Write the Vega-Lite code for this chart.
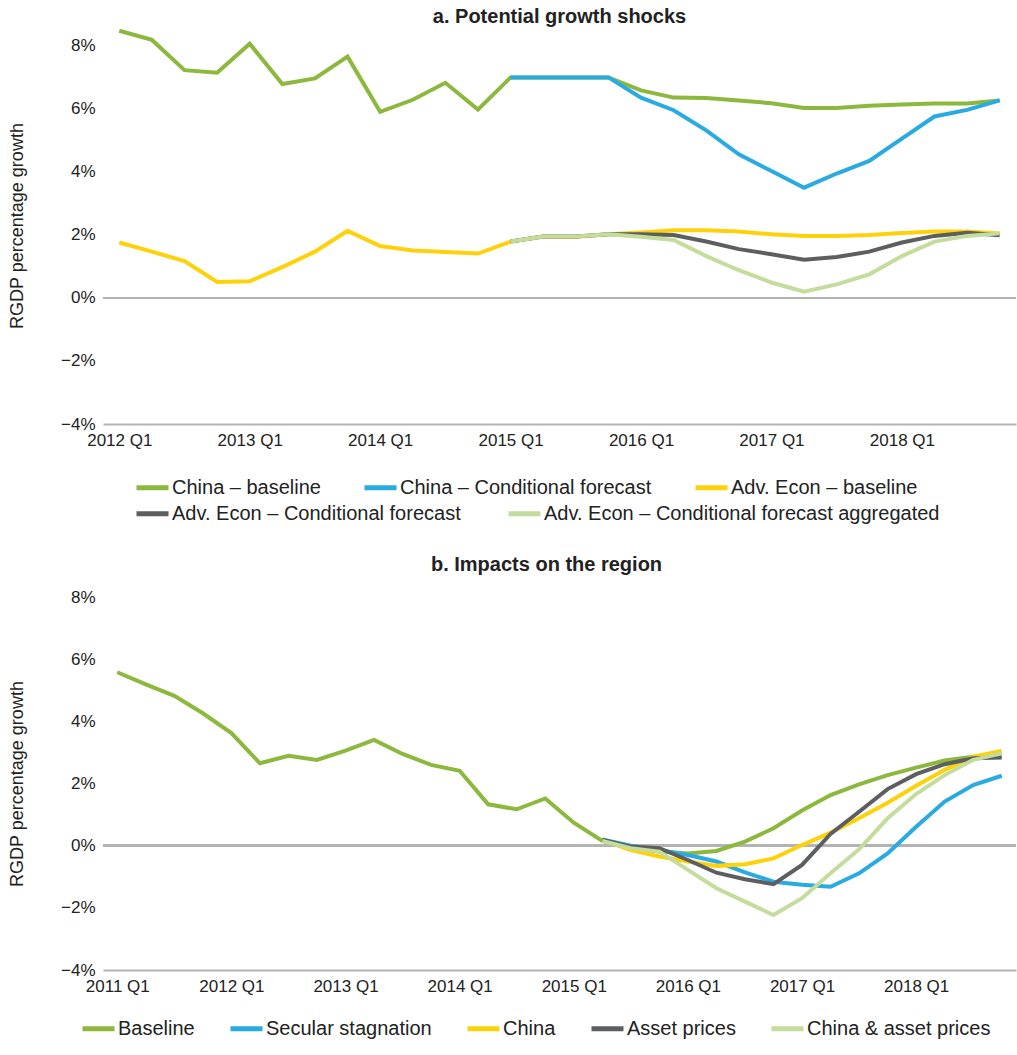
{
  "$schema": "https://vega.github.io/schema/vega-lite/v6.json",
  "padding": {"left": 8, "top": 6, "right": 0, "bottom": 0},
  "background": "white",
  "spacing": 31,
  "resolve": {"scale": {"color": "independent", "stroke": "independent"}, "legend": {"color": "independent", "stroke": "independent"}},
  "config": {
    "font": "Liberation Sans",
    "view": {"stroke": null},
    "title": {"font": "Liberation Sans", "fontSize": 20, "fontWeight": "bold", "color": "#222222", "anchor": "middle", "frame": "group"},
    "axis": {"labelFont": "Liberation Sans", "labelFontSize": 17, "labelColor": "#222222", "ticks": false, "grid": false, "titleFont": "Liberation Sans", "titleFontSize": 18, "titleFontWeight": "normal", "titleColor": "#222222"},
    "axisX": {"domainColor": "#b3b3b3", "domainWidth": 2, "labelPadding": 8, "labelAngle": 0},
    "axisY": {"domain": false, "labelPadding": 8, "titlePadding": 34},
    "legend": {"orient": "none", "direction": "horizontal", "title": null, "labelFont": "Liberation Sans", "labelFontSize": 20, "labelColor": "#222222", "symbolType": "stroke", "symbolSize": 1024, "symbolStrokeWidth": 5, "labelOffset": 1, "labelLimit": 700, "padding": 0}
  },
  "datasets": {
    "a": [
      {"q": "2012 Q1", "s": "China – baseline", "v": 8.48},
      {"q": "2012 Q2", "s": "China – baseline", "v": 8.19},
      {"q": "2012 Q3", "s": "China – baseline", "v": 7.23},
      {"q": "2012 Q4", "s": "China – baseline", "v": 7.15},
      {"q": "2013 Q1", "s": "China – baseline", "v": 8.07},
      {"q": "2013 Q2", "s": "China – baseline", "v": 6.79},
      {"q": "2013 Q3", "s": "China – baseline", "v": 6.97},
      {"q": "2013 Q4", "s": "China – baseline", "v": 7.66},
      {"q": "2014 Q1", "s": "China – baseline", "v": 5.91},
      {"q": "2014 Q2", "s": "China – baseline", "v": 6.29},
      {"q": "2014 Q3", "s": "China – baseline", "v": 6.83},
      {"q": "2014 Q4", "s": "China – baseline", "v": 5.98},
      {"q": "2015 Q1", "s": "China – baseline", "v": 7.0},
      {"q": "2015 Q2", "s": "China – baseline", "v": 7.0},
      {"q": "2015 Q3", "s": "China – baseline", "v": 7.0},
      {"q": "2015 Q4", "s": "China – baseline", "v": 7.0},
      {"q": "2016 Q1", "s": "China – baseline", "v": 6.59},
      {"q": "2016 Q2", "s": "China – baseline", "v": 6.36},
      {"q": "2016 Q3", "s": "China – baseline", "v": 6.35},
      {"q": "2016 Q4", "s": "China – baseline", "v": 6.27},
      {"q": "2017 Q1", "s": "China – baseline", "v": 6.18},
      {"q": "2017 Q2", "s": "China – baseline", "v": 6.03},
      {"q": "2017 Q3", "s": "China – baseline", "v": 6.03},
      {"q": "2017 Q4", "s": "China – baseline", "v": 6.10},
      {"q": "2018 Q1", "s": "China – baseline", "v": 6.14},
      {"q": "2018 Q2", "s": "China – baseline", "v": 6.17},
      {"q": "2018 Q3", "s": "China – baseline", "v": 6.17},
      {"q": "2018 Q4", "s": "China – baseline", "v": 6.27},

      {"q": "2015 Q1", "s": "China – Conditional forecast", "v": 7.0},
      {"q": "2015 Q2", "s": "China – Conditional forecast", "v": 7.0},
      {"q": "2015 Q3", "s": "China – Conditional forecast", "v": 7.0},
      {"q": "2015 Q4", "s": "China – Conditional forecast", "v": 7.0},
      {"q": "2016 Q1", "s": "China – Conditional forecast", "v": 6.36},
      {"q": "2016 Q2", "s": "China – Conditional forecast", "v": 5.96},
      {"q": "2016 Q3", "s": "China – Conditional forecast", "v": 5.32},
      {"q": "2016 Q4", "s": "China – Conditional forecast", "v": 4.56},
      {"q": "2017 Q1", "s": "China – Conditional forecast", "v": 4.03},
      {"q": "2017 Q2", "s": "China – Conditional forecast", "v": 3.50},
      {"q": "2017 Q3", "s": "China – Conditional forecast", "v": 3.95},
      {"q": "2017 Q4", "s": "China – Conditional forecast", "v": 4.35},
      {"q": "2018 Q1", "s": "China – Conditional forecast", "v": 5.06},
      {"q": "2018 Q2", "s": "China – Conditional forecast", "v": 5.76},
      {"q": "2018 Q3", "s": "China – Conditional forecast", "v": 5.97},
      {"q": "2018 Q4", "s": "China – Conditional forecast", "v": 6.27},

      {"q": "2012 Q1", "s": "Adv. Econ – baseline", "v": 1.76},
      {"q": "2012 Q2", "s": "Adv. Econ – baseline", "v": 1.47},
      {"q": "2012 Q3", "s": "Adv. Econ – baseline", "v": 1.17},
      {"q": "2012 Q4", "s": "Adv. Econ – baseline", "v": 0.51},
      {"q": "2013 Q1", "s": "Adv. Econ – baseline", "v": 0.53},
      {"q": "2013 Q2", "s": "Adv. Econ – baseline", "v": 0.98},
      {"q": "2013 Q3", "s": "Adv. Econ – baseline", "v": 1.47},
      {"q": "2013 Q4", "s": "Adv. Econ – baseline", "v": 2.13},
      {"q": "2014 Q1", "s": "Adv. Econ – baseline", "v": 1.65},
      {"q": "2014 Q2", "s": "Adv. Econ – baseline", "v": 1.51},
      {"q": "2014 Q3", "s": "Adv. Econ – baseline", "v": 1.46},
      {"q": "2014 Q4", "s": "Adv. Econ – baseline", "v": 1.41},
      {"q": "2015 Q1", "s": "Adv. Econ – baseline", "v": 1.79},
      {"q": "2015 Q2", "s": "Adv. Econ – baseline", "v": 1.95},
      {"q": "2015 Q3", "s": "Adv. Econ – baseline", "v": 1.94},
      {"q": "2015 Q4", "s": "Adv. Econ – baseline", "v": 2.02},
      {"q": "2016 Q1", "s": "Adv. Econ – baseline", "v": 2.08},
      {"q": "2016 Q2", "s": "Adv. Econ – baseline", "v": 2.15},
      {"q": "2016 Q3", "s": "Adv. Econ – baseline", "v": 2.15},
      {"q": "2016 Q4", "s": "Adv. Econ – baseline", "v": 2.11},
      {"q": "2017 Q1", "s": "Adv. Econ – baseline", "v": 2.02},
      {"q": "2017 Q2", "s": "Adv. Econ – baseline", "v": 1.97},
      {"q": "2017 Q3", "s": "Adv. Econ – baseline", "v": 1.97},
      {"q": "2017 Q4", "s": "Adv. Econ – baseline", "v": 2.00},
      {"q": "2018 Q1", "s": "Adv. Econ – baseline", "v": 2.06},
      {"q": "2018 Q2", "s": "Adv. Econ – baseline", "v": 2.11},
      {"q": "2018 Q3", "s": "Adv. Econ – baseline", "v": 2.11},
      {"q": "2018 Q4", "s": "Adv. Econ – baseline", "v": 2.05},

      {"q": "2015 Q1", "s": "Adv. Econ – Conditional forecast", "v": 1.79},
      {"q": "2015 Q2", "s": "Adv. Econ – Conditional forecast", "v": 1.95},
      {"q": "2015 Q3", "s": "Adv. Econ – Conditional forecast", "v": 1.95},
      {"q": "2015 Q4", "s": "Adv. Econ – Conditional forecast", "v": 2.02},
      {"q": "2016 Q1", "s": "Adv. Econ – Conditional forecast", "v": 2.02},
      {"q": "2016 Q2", "s": "Adv. Econ – Conditional forecast", "v": 2.00},
      {"q": "2016 Q3", "s": "Adv. Econ – Conditional forecast", "v": 1.79},
      {"q": "2016 Q4", "s": "Adv. Econ – Conditional forecast", "v": 1.55},
      {"q": "2017 Q1", "s": "Adv. Econ – Conditional forecast", "v": 1.39},
      {"q": "2017 Q2", "s": "Adv. Econ – Conditional forecast", "v": 1.21},
      {"q": "2017 Q3", "s": "Adv. Econ – Conditional forecast", "v": 1.30},
      {"q": "2017 Q4", "s": "Adv. Econ – Conditional forecast", "v": 1.47},
      {"q": "2018 Q1", "s": "Adv. Econ – Conditional forecast", "v": 1.76},
      {"q": "2018 Q2", "s": "Adv. Econ – Conditional forecast", "v": 1.97},
      {"q": "2018 Q3", "s": "Adv. Econ – Conditional forecast", "v": 2.07},
      {"q": "2018 Q4", "s": "Adv. Econ – Conditional forecast", "v": 1.99},

      {"q": "2015 Q1", "s": "Adv. Econ – Conditional forecast aggregated", "v": 1.79},
      {"q": "2015 Q2", "s": "Adv. Econ – Conditional forecast aggregated", "v": 1.95},
      {"q": "2015 Q3", "s": "Adv. Econ – Conditional forecast aggregated", "v": 1.95},
      {"q": "2015 Q4", "s": "Adv. Econ – Conditional forecast aggregated", "v": 2.02},
      {"q": "2016 Q1", "s": "Adv. Econ – Conditional forecast aggregated", "v": 1.94},
      {"q": "2016 Q2", "s": "Adv. Econ – Conditional forecast aggregated", "v": 1.84},
      {"q": "2016 Q3", "s": "Adv. Econ – Conditional forecast aggregated", "v": 1.33},
      {"q": "2016 Q4", "s": "Adv. Econ – Conditional forecast aggregated", "v": 0.88},
      {"q": "2017 Q1", "s": "Adv. Econ – Conditional forecast aggregated", "v": 0.49},
      {"q": "2017 Q2", "s": "Adv. Econ – Conditional forecast aggregated", "v": 0.20},
      {"q": "2017 Q3", "s": "Adv. Econ – Conditional forecast aggregated", "v": 0.43},
      {"q": "2017 Q4", "s": "Adv. Econ – Conditional forecast aggregated", "v": 0.75},
      {"q": "2018 Q1", "s": "Adv. Econ – Conditional forecast aggregated", "v": 1.33},
      {"q": "2018 Q2", "s": "Adv. Econ – Conditional forecast aggregated", "v": 1.79},
      {"q": "2018 Q3", "s": "Adv. Econ – Conditional forecast aggregated", "v": 1.97},
      {"q": "2018 Q4", "s": "Adv. Econ – Conditional forecast aggregated", "v": 2.05}
    ],
    "b": [
      {"q": "2011 Q1", "s": "Baseline", "v": 5.58},
      {"q": "2011 Q2", "s": "Baseline", "v": 5.19},
      {"q": "2011 Q3", "s": "Baseline", "v": 4.82},
      {"q": "2011 Q4", "s": "Baseline", "v": 4.26},
      {"q": "2012 Q1", "s": "Baseline", "v": 3.62},
      {"q": "2012 Q2", "s": "Baseline", "v": 2.65},
      {"q": "2012 Q3", "s": "Baseline", "v": 2.89},
      {"q": "2012 Q4", "s": "Baseline", "v": 2.76},
      {"q": "2013 Q1", "s": "Baseline", "v": 3.06},
      {"q": "2013 Q2", "s": "Baseline", "v": 3.40},
      {"q": "2013 Q3", "s": "Baseline", "v": 2.95},
      {"q": "2013 Q4", "s": "Baseline", "v": 2.60},
      {"q": "2014 Q1", "s": "Baseline", "v": 2.41},
      {"q": "2014 Q2", "s": "Baseline", "v": 1.33},
      {"q": "2014 Q3", "s": "Baseline", "v": 1.17},
      {"q": "2014 Q4", "s": "Baseline", "v": 1.52},
      {"q": "2015 Q1", "s": "Baseline", "v": 0.74},
      {"q": "2015 Q2", "s": "Baseline", "v": 0.15},
      {"q": "2015 Q3", "s": "Baseline", "v": -0.08},
      {"q": "2015 Q4", "s": "Baseline", "v": -0.19},
      {"q": "2016 Q1", "s": "Baseline", "v": -0.25},
      {"q": "2016 Q2", "s": "Baseline", "v": -0.17},
      {"q": "2016 Q3", "s": "Baseline", "v": 0.13},
      {"q": "2016 Q4", "s": "Baseline", "v": 0.56},
      {"q": "2017 Q1", "s": "Baseline", "v": 1.13},
      {"q": "2017 Q2", "s": "Baseline", "v": 1.63},
      {"q": "2017 Q3", "s": "Baseline", "v": 1.97},
      {"q": "2017 Q4", "s": "Baseline", "v": 2.27},
      {"q": "2018 Q1", "s": "Baseline", "v": 2.51},
      {"q": "2018 Q2", "s": "Baseline", "v": 2.74},
      {"q": "2018 Q3", "s": "Baseline", "v": 2.86},
      {"q": "2018 Q4", "s": "Baseline", "v": 2.90},

      {"q": "2015 Q2", "s": "Secular stagnation", "v": 0.20},
      {"q": "2015 Q3", "s": "Secular stagnation", "v": 0.00},
      {"q": "2015 Q4", "s": "Secular stagnation", "v": -0.14},
      {"q": "2016 Q1", "s": "Secular stagnation", "v": -0.30},
      {"q": "2016 Q2", "s": "Secular stagnation", "v": -0.51},
      {"q": "2016 Q3", "s": "Secular stagnation", "v": -0.86},
      {"q": "2016 Q4", "s": "Secular stagnation", "v": -1.16},
      {"q": "2017 Q1", "s": "Secular stagnation", "v": -1.26},
      {"q": "2017 Q2", "s": "Secular stagnation", "v": -1.32},
      {"q": "2017 Q3", "s": "Secular stagnation", "v": -0.89},
      {"q": "2017 Q4", "s": "Secular stagnation", "v": -0.25},
      {"q": "2018 Q1", "s": "Secular stagnation", "v": 0.61},
      {"q": "2018 Q2", "s": "Secular stagnation", "v": 1.42},
      {"q": "2018 Q3", "s": "Secular stagnation", "v": 1.95},
      {"q": "2018 Q4", "s": "Secular stagnation", "v": 2.25},

      {"q": "2015 Q2", "s": "China", "v": 0.18},
      {"q": "2015 Q3", "s": "China", "v": -0.14},
      {"q": "2015 Q4", "s": "China", "v": -0.35},
      {"q": "2016 Q1", "s": "China", "v": -0.51},
      {"q": "2016 Q2", "s": "China", "v": -0.65},
      {"q": "2016 Q3", "s": "China", "v": -0.60},
      {"q": "2016 Q4", "s": "China", "v": -0.41},
      {"q": "2017 Q1", "s": "China", "v": 0.02},
      {"q": "2017 Q2", "s": "China", "v": 0.42},
      {"q": "2017 Q3", "s": "China", "v": 0.88},
      {"q": "2017 Q4", "s": "China", "v": 1.38},
      {"q": "2018 Q1", "s": "China", "v": 1.93},
      {"q": "2018 Q2", "s": "China", "v": 2.44},
      {"q": "2018 Q3", "s": "China", "v": 2.86},
      {"q": "2018 Q4", "s": "China", "v": 3.05},

      {"q": "2015 Q2", "s": "Asset prices", "v": 0.18},
      {"q": "2015 Q3", "s": "Asset prices", "v": -0.03},
      {"q": "2015 Q4", "s": "Asset prices", "v": -0.08},
      {"q": "2016 Q1", "s": "Asset prices", "v": -0.46},
      {"q": "2016 Q2", "s": "Asset prices", "v": -0.87},
      {"q": "2016 Q3", "s": "Asset prices", "v": -1.08},
      {"q": "2016 Q4", "s": "Asset prices", "v": -1.24},
      {"q": "2017 Q1", "s": "Asset prices", "v": -0.62},
      {"q": "2017 Q2", "s": "Asset prices", "v": 0.38},
      {"q": "2017 Q3", "s": "Asset prices", "v": 1.09},
      {"q": "2017 Q4", "s": "Asset prices", "v": 1.82},
      {"q": "2018 Q1", "s": "Asset prices", "v": 2.30},
      {"q": "2018 Q2", "s": "Asset prices", "v": 2.62},
      {"q": "2018 Q3", "s": "Asset prices", "v": 2.81},
      {"q": "2018 Q4", "s": "Asset prices", "v": 2.84},

      {"q": "2015 Q2", "s": "China & asset prices", "v": 0.15},
      {"q": "2015 Q3", "s": "China & asset prices", "v": -0.08},
      {"q": "2015 Q4", "s": "China & asset prices", "v": -0.19},
      {"q": "2016 Q1", "s": "China & asset prices", "v": -0.78},
      {"q": "2016 Q2", "s": "China & asset prices", "v": -1.37},
      {"q": "2016 Q3", "s": "China & asset prices", "v": -1.80},
      {"q": "2016 Q4", "s": "China & asset prices", "v": -2.23},
      {"q": "2017 Q1", "s": "China & asset prices", "v": -1.69},
      {"q": "2017 Q2", "s": "China & asset prices", "v": -0.89},
      {"q": "2017 Q3", "s": "China & asset prices", "v": -0.12},
      {"q": "2017 Q4", "s": "China & asset prices", "v": 0.88},
      {"q": "2018 Q1", "s": "China & asset prices", "v": 1.66},
      {"q": "2018 Q2", "s": "China & asset prices", "v": 2.27},
      {"q": "2018 Q3", "s": "China & asset prices", "v": 2.76},
      {"q": "2018 Q4", "s": "China & asset prices", "v": 2.97}
    ]
  },
  "vconcat": [
    {
      "data": {"name": "a"},
      "width": 913,
      "height": 397,
      "title": {"text": "a. Potential growth shocks", "offset": -4},
      "layer": [
        {
          "mark": {"type": "rule", "color": "#b3b3b3", "strokeWidth": 2},
          "encoding": {"y": {"datum": 0}}
        },
        {
          "encoding": {
            "x": {"field": "q", "type": "ordinal", "scale": {"type": "point", "padding": 0.5}, "axis": {"title": null, "values": ["2012 Q1", "2013 Q1", "2014 Q1", "2015 Q1", "2016 Q1", "2017 Q1", "2018 Q1"]}},
            "y": {"field": "v", "type": "quantitative", "scale": {"domain": [-4, 8.6], "nice": false, "zero": false}, "axis": {"title": "RGDP percentage growth", "values": [-4, -2, 0, 2, 4, 6, 8], "labelExpr": "datum.value < 0 ? '−' + abs(datum.value) + '%' : datum.value + '%'"}}
          },
          "layer": [
            {"transform": [{"filter": {"field": "s", "equal": "China – baseline"}}], "mark": {"type": "line", "strokeWidth": 4}, "encoding": {"color": {"field": "s", "type": "nominal", "scale": {"domain": ["China – baseline", "China – Conditional forecast", "Adv. Econ – baseline"], "range": ["#8cb83e", "#29abe2", "#fdd20b"]}, "legend": {"legendX": 31, "legendY": 442, "columnPadding": 33}}}},
            {"transform": [{"filter": {"field": "s", "equal": "China – Conditional forecast"}}], "mark": {"type": "line", "strokeWidth": 4}, "encoding": {"color": {"field": "s", "type": "nominal"}}},
            {"transform": [{"filter": {"field": "s", "equal": "Adv. Econ – baseline"}}], "mark": {"type": "line", "strokeWidth": 4}, "encoding": {"color": {"field": "s", "type": "nominal"}}},
            {"transform": [{"filter": {"field": "s", "equal": "Adv. Econ – Conditional forecast"}}], "mark": {"type": "line", "strokeWidth": 4}, "encoding": {"stroke": {"field": "s", "type": "nominal", "scale": {"domain": ["Adv. Econ – Conditional forecast", "Adv. Econ – Conditional forecast aggregated"], "range": ["#5d5e60", "#c4dc9c"]}, "legend": {"legendX": 31, "legendY": 468, "columnPadding": 37}}}},
            {"transform": [{"filter": {"field": "s", "equal": "Adv. Econ – Conditional forecast aggregated"}}], "mark": {"type": "line", "strokeWidth": 4}, "encoding": {"stroke": {"field": "s", "type": "nominal"}}}
          ]
        }
      ]
    },
    {
      "data": {"name": "b"},
      "width": 913,
      "height": 373,
      "title": {"text": "b. Impacts on the region", "offset": 13, "dx": -13},
      "layer": [
        {
          "mark": {"type": "rule", "color": "#b3b3b3", "strokeWidth": 2},
          "encoding": {"y": {"datum": 0}}
        },
        {
          "encoding": {
            "x": {"field": "q", "type": "ordinal", "scale": {"type": "point", "padding": 0.5}, "axis": {"title": null, "values": ["2011 Q1", "2012 Q1", "2013 Q1", "2014 Q1", "2015 Q1", "2016 Q1", "2017 Q1", "2018 Q1"]}},
            "y": {"field": "v", "type": "quantitative", "scale": {"domain": [-4, 8], "nice": false, "zero": false}, "axis": {"title": "RGDP percentage growth", "values": [-4, -2, 0, 2, 4, 6, 8], "labelExpr": "datum.value < 0 ? '−' + abs(datum.value) + '%' : datum.value + '%'"}}
          },
          "layer": [
            {"transform": [{"filter": {"field": "s", "equal": "Baseline"}}], "mark": {"type": "line", "strokeWidth": 4}, "encoding": {"color": {"field": "s", "type": "nominal", "scale": {"domain": ["Baseline", "Secular stagnation", "China", "Asset prices", "China & asset prices"], "range": ["#8cb83e", "#29abe2", "#fdd20b", "#5d5e60", "#c4dc9c"]}, "legend": {"legendX": -23, "legendY": 413, "columnPadding": 25}}}},
            {"transform": [{"filter": {"field": "s", "equal": "Secular stagnation"}}], "mark": {"type": "line", "strokeWidth": 4}, "encoding": {"color": {"field": "s", "type": "nominal"}}},
            {"transform": [{"filter": {"field": "s", "equal": "China"}}], "mark": {"type": "line", "strokeWidth": 4}, "encoding": {"color": {"field": "s", "type": "nominal"}}},
            {"transform": [{"filter": {"field": "s", "equal": "Asset prices"}}], "mark": {"type": "line", "strokeWidth": 4}, "encoding": {"color": {"field": "s", "type": "nominal"}}},
            {"transform": [{"filter": {"field": "s", "equal": "China & asset prices"}}], "mark": {"type": "line", "strokeWidth": 4}, "encoding": {"color": {"field": "s", "type": "nominal"}}}
          ]
        }
      ]
    }
  ]
}
